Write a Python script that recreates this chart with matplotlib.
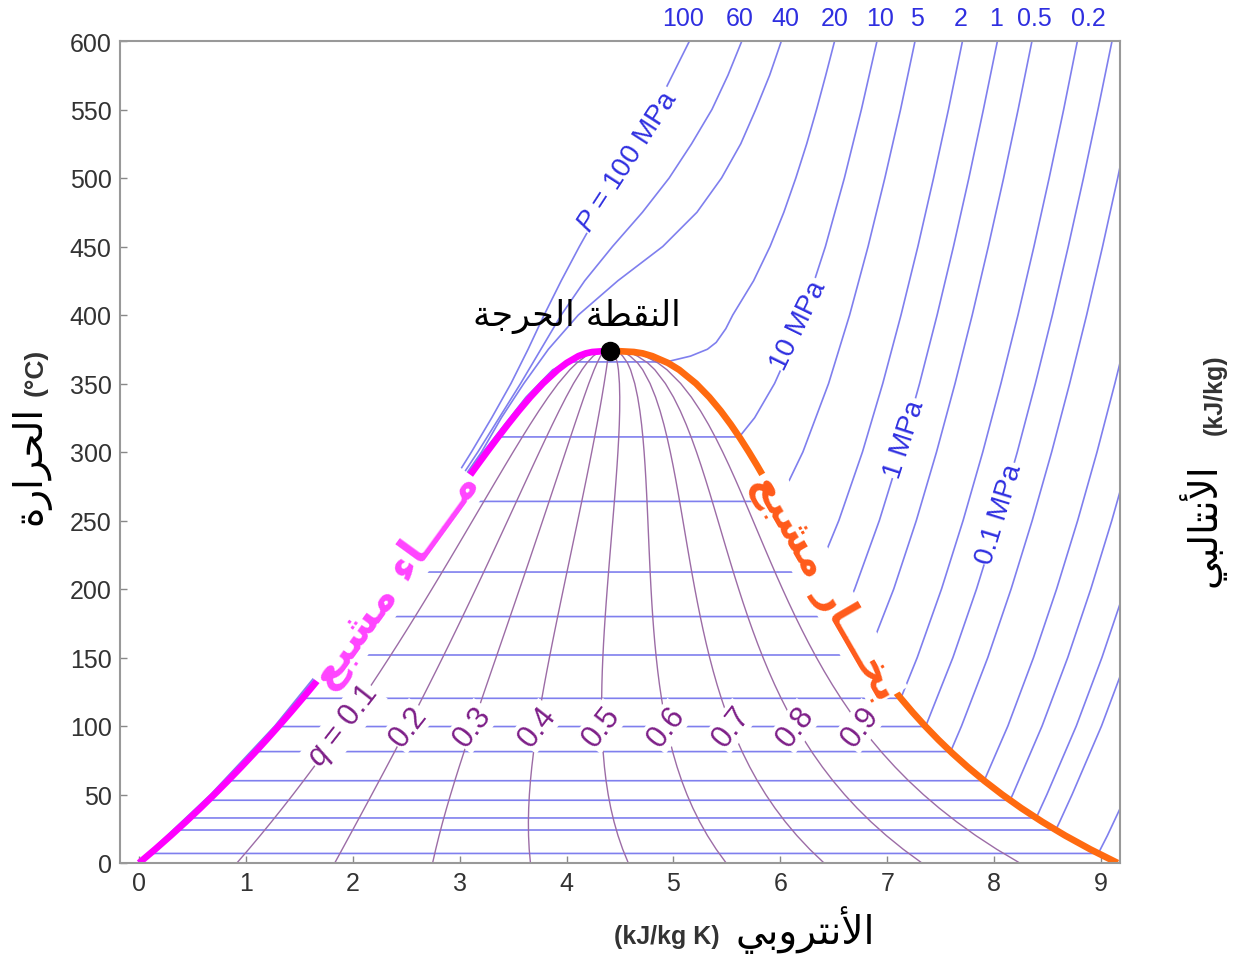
import numpy as np
import matplotlib
matplotlib.use('Agg')
import matplotlib.pyplot as plt
from matplotlib.transforms import blended_transform_factory

plt.rcParams['font.family'] = ['Liberation Sans', 'DejaVu Sans']
plt.rcParams['mathtext.fontset'] = 'custom'
plt.rcParams['mathtext.it'] = 'Liberation Sans:italic'
plt.rcParams['mathtext.rm'] = 'Liberation Sans'

# saturation table of water: T (C), s_f, s_g (kJ/kg K)
sat_T = np.array([0.01, 10, 20, 30, 40, 50, 60, 70, 80, 90, 100, 110, 120, 130, 140, 150,
                  160, 170, 180, 190, 200, 210, 220, 230, 240, 250, 260, 270, 280, 290,
                  300, 310, 320, 330, 340, 350, 360, 365, 370, 372, 373, 373.95])
sat_sf = np.array([0.0, 0.1511, 0.2965, 0.4368, 0.5724, 0.7038, 0.8313, 0.9551, 1.0756,
                   1.1929, 1.3072, 1.4188, 1.5279, 1.6346, 1.7392, 1.8418, 1.9426, 2.0417,
                   2.1392, 2.2355, 2.3305, 2.4245, 2.5177, 2.6101, 2.7020, 2.7935, 2.8849,
                   2.9765, 3.0685, 3.1612, 3.2552, 3.3510, 3.4494, 3.5518, 3.6601, 3.7784,
                   3.9167, 4.0014, 4.1112, 4.1801, 4.2400, 4.4070])
sat_sg = np.array([9.1556, 8.8998, 8.6660, 8.4520, 8.2555, 8.0748, 7.9081, 7.7540, 7.6111,
                   7.4781, 7.3541, 7.2381, 7.1291, 7.0264, 6.9293, 6.8371, 6.7491, 6.6650,
                   6.5840, 6.5059, 6.4302, 6.3563, 6.2840, 6.2128, 6.1423, 6.0721, 6.0016,
                   5.9304, 5.8579, 5.7834, 5.7059, 5.6244, 5.5372, 5.4422, 5.3356, 5.2110,
                   5.0536, 4.9493, 4.8012, 4.7122, 4.6300, 4.4070])
crit_s, crit_T = 4.407, 373.95

# quality lines
q_vals = [0.1, 0.2, 0.3, 0.4, 0.5, 0.6, 0.7, 0.8, 0.9]

# supercritical isobars (MPa) : full T, s
super_P = [100, 60, 40]
super_T = [[0, 50, 100, 150, 200, 250, 300, 325, 350, 375, 400, 425, 450, 475, 500, 525,
            550, 575, 600],
           [0, 50, 100, 150, 200, 250, 300, 325, 350, 375, 400, 425, 450, 475, 500, 525,
            550, 575, 600],
           [0, 50, 100, 150, 200, 250, 300, 325, 350, 375, 400, 425, 450, 475, 500, 525,
            550, 575, 600]]
super_s = [[-0.01, 0.67, 1.27, 1.79, 2.27, 2.71, 3.11, 3.30, 3.48, 3.64, 3.79, 3.95, 4.12,
            4.30, 4.48, 4.66, 4.83, 4.99, 5.15],
           [-0.003, 0.685, 1.285, 1.81, 2.295, 2.745, 3.17, 3.37, 3.57, 3.76, 3.95, 4.17,
            4.43, 4.71, 4.96, 5.17, 5.36, 5.51, 5.64],
           [0.0, 0.693, 1.295, 1.822, 2.306, 2.758, 3.205, 3.39, 3.60, 3.83, 4.11, 4.48,
            4.90, 5.22, 5.45, 5.63, 5.77, 5.90, 6.01]]

# subcritical isobars: saturation temperature, s_f, s_g and superheated part
sub_P = [20, 10, 5, 2, 1, 0.5, 0.2, 0.1, 0.05, 0.02, 0.01, 0.005, 0.003, 0.001]
sub_Tsat = [365.75, 311.00, 263.94, 212.38, 179.88, 151.83, 120.21, 99.61, 81.32, 60.06,
            45.81, 32.87, 24.08, 6.97]
sub_sf = [4.0146, 3.3603, 2.9210, 2.4467, 2.1381, 1.8604, 1.5302, 1.3028, 1.0912, 0.8320,
          0.6492, 0.4762, 0.3543, 0.1060]
sub_sg = [4.9330, 5.6159, 5.9737, 6.3390, 6.5850, 6.8207, 7.1270, 7.3589, 7.5930, 7.9073,
          8.1488, 8.3938, 8.5765, 8.9749]
vap_T = [[370, 375, 380, 390, 400, 425, 450, 475, 500, 525, 550, 575, 600],
         [325, 350, 375, 400, 450, 500, 550, 600],
         [275, 300, 350, 400, 450, 500, 550, 600],
         [225, 250, 300, 350, 400, 450, 500, 550, 600],
         [200, 250, 300, 350, 400, 450, 500, 550, 600],
         [200, 250, 300, 350, 400, 450, 500, 550, 600],
         [150, 200, 250, 300, 350, 400, 450, 500, 550, 600],
         [150, 200, 250, 300, 350, 400, 450, 500, 550, 600],
         [100, 150, 200, 250, 300, 350, 400, 450, 500, 600],
         [100, 150, 200, 250, 300, 350, 400],
         [50, 100, 150, 200, 250, 300],
         [50, 100, 150, 200],
         [30, 50, 100, 150],
         [20, 30, 40, 50]]
vap_s = [[5.16, 5.318, 5.40, 5.49, 5.555, 5.750, 5.904, 6.033, 6.145, 6.247, 6.339, 6.425,
          6.508],
         [5.7596, 5.9460, 6.09, 6.2141, 6.4219, 6.5995, 6.7585, 6.9045],
         [6.0571, 6.2110, 6.4516, 6.6483, 6.8210, 6.9781, 7.125, 7.2605],
         [6.4160, 6.5475, 6.7684, 6.9583, 7.1292, 7.287, 7.4337, 7.573, 7.7043],
         [6.6956, 6.9265, 7.1246, 7.3029, 7.4670, 7.620, 7.7642, 7.900, 8.0311],
         [7.0610, 7.2725, 7.4614, 7.6346, 7.7956, 7.946, 8.0893, 8.225, 8.3544],
         [7.2810, 7.5081, 7.7100, 7.8941, 8.064, 8.2236, 8.373, 8.5153, 8.651, 8.7793],
         [7.6148, 7.8356, 8.0346, 8.2172, 8.386, 8.5452, 8.694, 8.8362, 8.972, 9.1034],
         [7.6953, 7.9413, 8.1592, 8.3568, 8.5387, 8.707, 8.8659, 9.015, 9.1566, 9.4223],
         [8.129, 8.369, 8.585, 8.782, 8.963, 9.130, 9.289],
         [8.1741, 8.4489, 8.6893, 8.9049, 9.1015, 9.2827],
         [8.494, 8.769, 9.009, 9.225],
         [8.613, 8.730, 9.005, 9.245],
         [9.06, 9.12, 9.18, 9.237]]
# compressed liquid branch of the 20 MPa isobar
liq20_T = [0, 50, 100, 150, 200, 250, 300, 340, 360]
liq20_s = [0.0, 0.697, 1.30, 1.83, 2.317, 2.776, 3.22, 3.62, 3.87]

top_labels = ['100', '60', '40', '20', '10', '5', '2', '1', '0.5', '0.2']
top_label_s = [5.09, 5.62, 6.05, 6.51, 6.93, 7.28, 7.69, 8.02, 8.38, 8.88]

# on-curve isobar labels: text, s, T, angle
p_lab_text = [r'$P$ = 100 MPa', '10 MPa', '1 MPa', '0.1 MPa']
p_lab_s = [4.57, 6.17, 7.16, 8.05]
p_lab_T = [513, 393, 310, 255]
p_lab_rot = [57, 64, 72, 73]

ISO = '#7f7fee'
QCOL = '#9c6ca6'
QTXT = '#7d1f88'
PTXT = '#2f2fe0'

# --- minimal Arabic shaping (presentation forms) ---
FORMS = {
    'ا': (0xFE8D, 0xFE8E, None, None), 'أ': (0xFE83, 0xFE84, None, None),
    'ب': (0xFE8F, 0xFE90, 0xFE91, 0xFE92), 'ة': (0xFE93, 0xFE94, None, None),
    'ت': (0xFE95, 0xFE96, 0xFE97, 0xFE98), 'ج': (0xFE9D, 0xFE9E, 0xFE9F, 0xFEA0),
    'ح': (0xFEA1, 0xFEA2, 0xFEA3, 0xFEA4), 'خ': (0xFEA5, 0xFEA6, 0xFEA7, 0xFEA8),
    'ر': (0xFEAD, 0xFEAE, None, None), 'ش': (0xFEB5, 0xFEB6, 0xFEB7, 0xFEB8),
    'ط': (0xFEC1, 0xFEC2, 0xFEC3, 0xFEC4), 'ع': (0xFEC9, 0xFECA, 0xFECB, 0xFECC),
    'ق': (0xFED5, 0xFED6, 0xFED7, 0xFED8), 'ل': (0xFEDD, 0xFEDE, 0xFEDF, 0xFEE0),
    'م': (0xFEE1, 0xFEE2, 0xFEE3, 0xFEE4), 'ن': (0xFEE5, 0xFEE6, 0xFEE7, 0xFEE8),
    'و': (0xFEED, 0xFEEE, None, None), 'ي': (0xFEF1, 0xFEF2, 0xFEF3, 0xFEF4),
    'ء': (0xFE80, None, None, None),
}
LAMALEF = {'ا': (0xFEFB, 0xFEFC), 'أ': (0xFEF7, 0xFEF8)}
TATWEEL = 'ـ'


def joins_next(c):
    return c == TATWEEL or (c in FORMS and FORMS[c][2] is not None)


def joins_prev(c):
    return c == TATWEEL or (c in FORMS and FORMS[c][1] is not None)


def ar(text):
    out = []
    i = 0
    while i < len(text):
        c = text[i]
        prev = text[i - 1] if i > 0 else ' '
        nxt = text[i + 1] if i + 1 < len(text) else ' '
        cp = joins_next(prev) and joins_prev(c)
        if c == 'ل' and nxt in LAMALEF:
            out.append(chr(LAMALEF[nxt][1 if cp else 0]))
            i += 2
            continue
        if c not in FORMS:
            out.append(c)
            i += 1
            continue
        cn = joins_next(c) and joins_prev(nxt)
        iso, fin, ini, med = FORMS[c]
        if cp and cn:
            out.append(chr(med))
        elif cp:
            out.append(chr(fin))
        elif cn:
            out.append(chr(ini))
        else:
            out.append(chr(iso))
        i += 1
    return ''.join(reversed(out))


AR = ['DejaVu Sans']

fig = plt.figure(figsize=(12.33, 9.62), dpi=100)
ax = fig.add_axes([120 / 1233, 98 / 962, 1000 / 1233, 822 / 962])

# isobars
for T, s in zip(super_T, super_s):
    ax.plot(s, T, color=ISO, lw=1.2, zorder=1)
for P, Ts, sf0, sg0, vT, vs in zip(sub_P, sub_Tsat, sub_sf, sub_sg, vap_T, vap_s):
    if P == 20:
        lT, ls = list(liq20_T), list(liq20_s)
    else:
        m = sat_T < Ts
        lT, ls = list(sat_T[m]), list(sat_sf[m])
    T = lT + [Ts, Ts] + list(vT)
    s = ls + [sf0, sg0] + list(vs)
    ax.plot(s, T, color=ISO, lw=1.2, zorder=1)

# constant quality lines
for q in q_vals:
    ax.plot(sat_sf + q * (sat_sg - sat_sf), sat_T, color=QCOL, lw=1.0, zorder=1.5)

# saturation dome
ax.plot(sat_sf, sat_T, color='#ff00ff', lw=4.8, zorder=2, solid_capstyle='butt')
ax.plot(sat_sg, sat_T, color='#ff6a10', lw=4.8, zorder=2, solid_capstyle='butt')
ax.plot([crit_s], [crit_T], 'o', color='black', ms=13, zorder=5)

# quality labels at 100 C
i100 = list(sat_T).index(100)
for q in q_vals:
    sq = sat_sf[i100] + q * (sat_sg[i100] - sat_sf[i100])
    txt = r'$q$ = %.1f' % q if q == 0.1 else '%.1f' % q
    ax.text(sq, 100, txt, color=QTXT, fontsize=22, rotation=52, rotation_mode='anchor',
            ha='center', va='center', zorder=3,
            bbox=dict(facecolor='white', edgecolor='none', pad=1.0))

# isobar labels on curves
for t, s, T, r in zip(p_lab_text, p_lab_s, p_lab_T, p_lab_rot):
    ax.text(s, T, t, color=PTXT, fontsize=20, rotation=r, rotation_mode='anchor',
            ha='center', va='center', zorder=3,
            bbox=dict(facecolor='white', edgecolor='none', pad=1.0))

# isobar values along the top
tr = blended_transform_factory(ax.transData, ax.transAxes)
for lab, s in zip(top_labels, top_label_s):
    ax.text(s, 1.028, lab, transform=tr, color=PTXT, fontsize=18,
            ha='center', va='center', clip_on=False)

# saturated liquid / vapour labels
ax.text(2.40, 207, ar('مــــاء مشبع'), family=AR, fontweight='bold', color='#ff44ff',
        fontsize=31, rotation=54, rotation_mode='anchor', ha='center', va='center',
        zorder=3, bbox=dict(facecolor='white', edgecolor='none', pad=0.3))
ax.text(6.42, 202, ar('بخـــار مشبع'), family=AR, fontweight='bold', color='#ff5a1a',
        fontsize=30, rotation=-60, rotation_mode='anchor', ha='center', va='center',
        zorder=3, bbox=dict(facecolor='white', edgecolor='none', pad=0.3))

ax.text(4.10, 400, ar('النقطة الحرجة'), family=AR, fontsize=25, color='black',
        ha='center', va='center', zorder=4)

ax.set_xlim(-0.178, 9.178)
ax.set_ylim(0, 600)
ax.set_xticks(range(10))
ax.set_yticks(range(0, 601, 50))
ax.tick_params(direction='in', length=5, width=1, color='#888888', labelcolor='#333333',
               labelsize=18, pad=6)
for sp in ax.spines.values():
    sp.set_color('#999999')
    sp.set_linewidth(1.5)

# axis titles
fig.text(667 / 1233, 1 - 937 / 962, '(kJ/kg K)', fontsize=18, fontweight='bold',
         color='#333333', ha='center', va='center')
fig.text(805 / 1233, 1 - 930 / 962, ar('الأنتروبي'), family=AR, fontsize=28,
         color='black', ha='center', va='center')
fig.text(36 / 1233, 1 - 372 / 962, '(°C)', fontsize=19, fontweight='bold',
         color='#333333', ha='center', va='center', rotation=90)
fig.text(30 / 1233, 1 - 465 / 962, ar('الحرارة'), family=AR, fontsize=28,
         color='black', ha='center', va='center', rotation=90)
fig.text(1215 / 1233, 1 - 395 / 962, '(kJ/kg)', fontsize=18, fontweight='bold',
         color='#333333', ha='center', va='center', rotation=90)
fig.text(1202 / 1233, 1 - 525 / 962, ar('الأنتالبي'), family=AR, fontsize=28,
         color='black', ha='center', va='center', rotation=90)

fig.savefig('out.png', dpi=100)
